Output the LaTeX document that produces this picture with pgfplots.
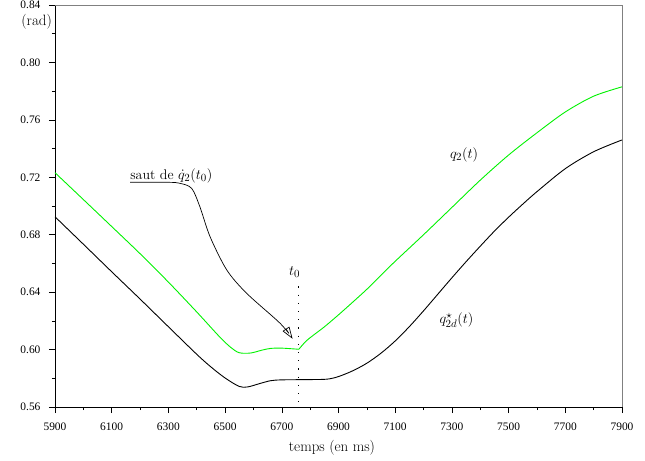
\documentclass[border=0pt]{standalone}
\usepackage{fontspec}
\usepackage{pgfplots}
\pgfplotsset{compat=1.18}
\usetikzlibrary{arrows.meta}
\newfontfamily\tickfont{Liberation Serif}
\definecolor{qgreen}{rgb}{0.0,0.95,0.0}

\pgfplotstableread{
x y
5900 0.7232
6000 0.7045
6100 0.6857
6200 0.6668
6300 0.6470
6400 0.6262
6480 0.6090
6520 0.6015
6550 0.5978
6590 0.5976
6630 0.5996
6660 0.6008
6700 0.6010
6760 0.6002
}\greenA

\pgfplotstableread{
x y
6760 0.6002
6785 0.6058
6810 0.6098
6850 0.6158
6900 0.6242
6950 0.6330
7000 0.6420
7050 0.6518
7100 0.6615
7200 0.6800
7300 0.6990
7400 0.7180
7500 0.7355
7600 0.7510
7700 0.7655
7800 0.7765
7900 0.7830
}\greenB

\pgfplotstableread{
x y
5900 0.6925
6000 0.6734
6100 0.6542
6200 0.6352
6300 0.6159
6400 0.5967
6450 0.5879
6500 0.5802
6550 0.5743
6580 0.5740
6620 0.5762
6660 0.5783
6700 0.5789
6800 0.5791
6860 0.5794
6900 0.5812
6950 0.5852
7000 0.5905
7050 0.5975
7100 0.6060
7150 0.6160
7200 0.6270
7250 0.6385
7300 0.6500
7350 0.6612
7400 0.6720
7450 0.6825
7500 0.6922
7550 0.7013
7600 0.7100
7700 0.7260
7800 0.7378
7900 0.7460
}\blackq

\pgfplotstableread{
x y
6165 0.7165
6300 0.7165
6341 0.7158
6382 0.7123
6411 0.6995
6447 0.6786
6506 0.6554
6576 0.6392
6694 0.6183
6738 0.6075
}\annot

\begin{document}
\begin{tikzpicture}
\useasboundingbox (-55bp,-54bp) rectangle (590bp,407bp);
\begin{axis}[
  at={(0,0)}, anchor=south west,
  scale only axis, width=567bp, height=402bp,
  xmin=5900, xmax=7900, ymin=0.56, ymax=0.84,
  axis x line*=bottom, axis y line*=left,
  axis line style={-, black, line width=0.8pt},
  xtick={5900,6100,6300,6500,6700,6900,7100,7300,7500,7700,7900},
  ytick={0.56,0.60,0.64,0.68,0.72,0.76,0.80,0.84},
  minor x tick num=1, minor y tick num=1,
  tick align=outside, major tick length=6bp, minor tick length=3bp,
  tick style={black, line width=0.6pt},
  /pgf/number format/assume math mode=true,
  tick label style={font=\tickfont\fontsize{11.5}{13}\selectfont},
  x tick label style={/pgf/number format/1000 sep={}, yshift=-6bp},
  y tick label style={/pgf/number format/.cd, fixed, fixed zerofill, precision=2, /tikz/xshift=-5bp},
  clip=false,
]
\draw[gray, line width=1pt] (rel axis cs:0,1) -- (rel axis cs:1,1) -- (rel axis cs:1,0);
\addplot[qgreen, line width=0.9pt, smooth, tension=0.5] table {\greenA};
\addplot[qgreen, line width=0.9pt, smooth, tension=0.5] table {\greenB};
\addplot[black, line width=0.9pt, smooth, tension=0.5] table {\blackq};
\addplot[black, line width=0.7pt, smooth, tension=0.5, -{Triangle[open, length=12bp, width=8bp]}] table {\annot};
\addplot[black, line width=0.7pt, dash pattern=on 1.2bp off 7bp] coordinates {(6760,0.644) (6760,0.56)};
\node[anchor=base west, inner sep=0pt] at (axis cs:6165,0.7185) {\fontsize{14}{16}\selectfont\addfontfeature{LetterSpace=5}saut de \fontsize{15}{17}\selectfont$\dot q_2(t_0)$};
\node[font=\fontsize{15.5}{17}\selectfont] at (axis cs:7343,0.7359) {$q_2(t)$};
\node[font=\fontsize{15.5}{17}\selectfont] at (axis cs:7316,0.6206) {$q^\star_{2d}(t)$};
\node[font=\fontsize{15}{17}\selectfont] at (axis cs:6745,0.654) {$t_0$};
\node[anchor=east, inner sep=0pt] at ([xshift=-3bp]rel axis cs:0,0.958) {\fontsize{15}{17}\selectfont\addfontfeature{LetterSpace=5}(rad)};
\node at ([yshift=-41bp]rel axis cs:0.4885,0) {\fontsize{15}{17}\selectfont\addfontfeature{LetterSpace=6}temps (en ms)};
\end{axis}
\end{tikzpicture}
\end{document}
